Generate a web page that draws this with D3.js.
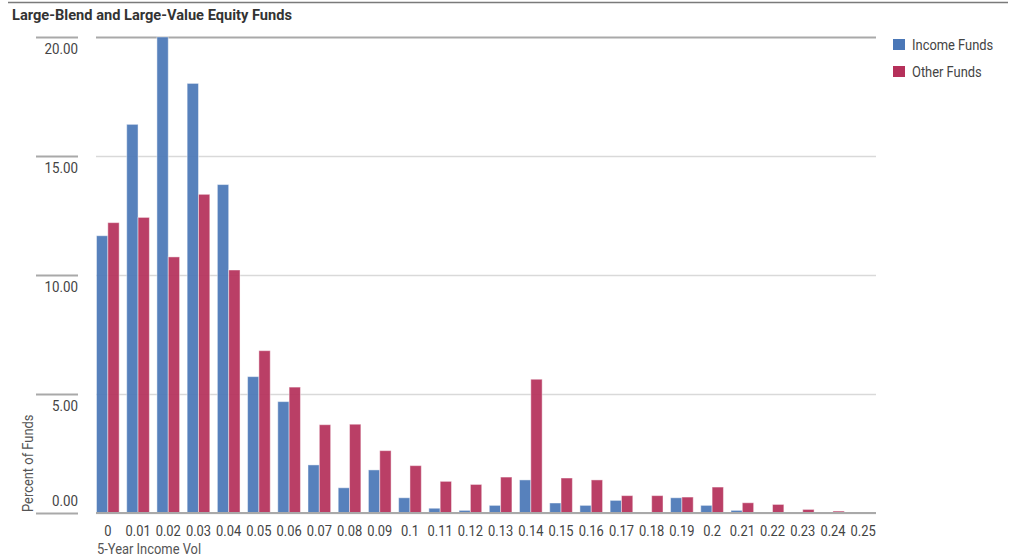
<!DOCTYPE html>
<html>
<head>
<meta charset="utf-8">
<script src="https://cdn.jsdelivr.net/npm/d3@7/dist/d3.min.js"></script>
<style>
  html, body { margin: 0; padding: 0; background: #fff; }
  svg { display: block; }
  text { font-family: Roboto, "Liberation Sans", sans-serif; }
</style>
</head>
<body>
<svg id="chart" width="1016" height="557"></svg>
<script>
// Distribution of 5-year income volatility, percent of funds per bucket
const categories = ["0","0.01","0.02","0.03","0.04","0.05","0.06","0.07","0.08","0.09","0.1","0.11","0.12","0.13","0.14","0.15","0.16","0.17","0.18","0.19","0.2","0.21","0.22","0.23","0.24","0.25"];
const incomeFunds = [11.65,16.33,20.0,18.05,13.8,5.73,4.68,2.02,1.06,1.81,0.64,0.2,0.11,0.32,1.39,0.42,0.32,0.53,0,0.64,0.32,0.11,0,0,0,0];
const otherFunds  = [12.2,12.42,10.76,13.39,10.21,6.82,5.29,3.71,3.73,2.62,1.99,1.33,1.2,1.51,5.62,1.47,1.39,0.73,0.73,0.67,1.09,0.43,0.36,0.15,0.08,0.04];
const seriesNames = ["Income Funds", "Other Funds"];
const seriesColors = ["#4a77b7", "#b5305a"];
const yTicks = [0, 5, 10, 15, 20];

const svg = d3.select("#chart");

const plotLeft = 96, plotRight = 876, plotTop = 37, plotBottom = 513;

// Squeeze text horizontally to get a condensed face
function condense(sel, factor) {
  sel.each(function () {
    const w = this.getComputedTextLength();
    d3.select(this)
      .attr("textLength", w * factor)
      .attr("lengthAdjust", "spacingAndGlyphs");
  });
}

const x = d3.scaleBand()
  .domain(categories)
  .range([96.5, 874.5])
  .paddingInner(0.25)
  .paddingOuter(0);

const xSub = d3.scaleBand()
  .domain(seriesNames)
  .range([0, x.bandwidth()]);

const y = d3.scaleLinear()
  .domain([0, 20])
  .range([plotBottom, plotTop]);

// Frame line across the top
svg.append("line")
  .attr("x1", 8).attr("x2", 1008)
  .attr("y1", 2.5).attr("y2", 2.5)
  .attr("stroke", "#7a7a7a").attr("stroke-width", 1.5);

// Title
svg.append("text")
  .attr("x", 12).attr("y", 20)
  .attr("font-size", 15)
  .attr("font-weight", "bold")
  .attr("fill", "#333")
  .attr("textLength", 280)
  .attr("lengthAdjust", "spacingAndGlyphs")
  .text("Large-Blend and Large-Value Equity Funds");

// Horizontal gridlines
const grid = svg.append("g")
  .attr("transform", `translate(${plotLeft},0)`)
  .call(d3.axisRight(y).tickValues(yTicks).tickSize(plotRight - plotLeft).tickFormat(""));
grid.select(".domain").remove();
grid.selectAll(".tick line")
  .attr("stroke", d => (d === 20 ? "#a9a9a9" : "#d9d9d9"))
  .attr("stroke-width", d => (d === 20 ? 2 : 1.5));

// Bars
const groups = svg.append("g")
  .selectAll("g")
  .data(categories)
  .join("g")
  .attr("transform", d => `translate(${x(d)},0)`);

groups.selectAll("rect")
  .data((d, i) => [incomeFunds[i], otherFunds[i]].map((v, k) => ({ v, k })))
  .join("rect")
  .attr("x", d => xSub(seriesNames[d.k]))
  .attr("width", xSub.bandwidth())
  .attr("y", d => y(d.v))
  .attr("height", d => y(0) - y(d.v))
  .attr("fill", d => seriesColors[d.k])
  .attr("fill-opacity", 0.93)
  .attr("stroke", "rgba(255,255,255,0.45)")
  .attr("stroke-width", 1);

// Baseline
svg.append("line")
  .attr("x1", plotLeft).attr("x2", plotRight)
  .attr("y1", y(0)).attr("y2", y(0))
  .attr("stroke", "#a9a9a9").attr("stroke-width", 2);

// Y axis: short tick rules to the left with labels tucked beneath them
const yAxis = svg.append("g")
  .attr("transform", "translate(78,0)")
  .call(d3.axisLeft(y).tickValues(yTicks).tickSize(42).tickFormat(d3.format(".2f")));
yAxis.select(".domain").remove();
yAxis.selectAll(".tick line").attr("stroke", "#a9a9a9").attr("stroke-width", 2);
yAxis.selectAll(".tick text")
  .attr("x", 0)
  .attr("dy", d => (d === 0 ? "-0.5em" : "1.05em"))
  .attr("text-anchor", "end")
  .attr("font-size", 15.5)
  .attr("font-family", "Roboto, sans-serif")
  .attr("fill", "#444")
  .call(condense, 0.86);

// X axis labels
const xAxis = svg.append("g")
  .attr("transform", `translate(0,${plotBottom})`)
  .call(d3.axisBottom(x).tickSize(0).tickPadding(12));
xAxis.select(".domain").remove();
xAxis.selectAll(".tick text")
  .attr("font-size", 15)
  .attr("font-family", "Roboto, sans-serif")
  .attr("fill", "#444")
  .call(condense, 0.86);

// Axis titles
svg.append("text")
  .attr("transform", "translate(33,512) rotate(-90)")
  .attr("font-size", 15)
  .attr("fill", "#555")
  .text("Percent of Funds")
  .call(condense, 0.86);

svg.append("text")
  .attr("x", 97).attr("y", 554)
  .attr("font-size", 15)
  .attr("fill", "#555")
  .text("5-Year Income Vol")
  .call(condense, 0.86);

// Legend
const legend = svg.append("g")
  .attr("transform", "translate(893,39)")
  .selectAll("g")
  .data(seriesNames)
  .join("g")
  .attr("transform", (d, i) => `translate(0,${i * 27})`);
legend.append("rect")
  .attr("width", 12).attr("height", 11)
  .attr("fill", (d, i) => seriesColors[i]);
legend.append("text")
  .attr("x", 19).attr("y", 11)
  .attr("font-size", 15)
  .attr("fill", "#444")
  .text(d => d)
  .call(condense, 0.86);
</script>
</body>
</html>
